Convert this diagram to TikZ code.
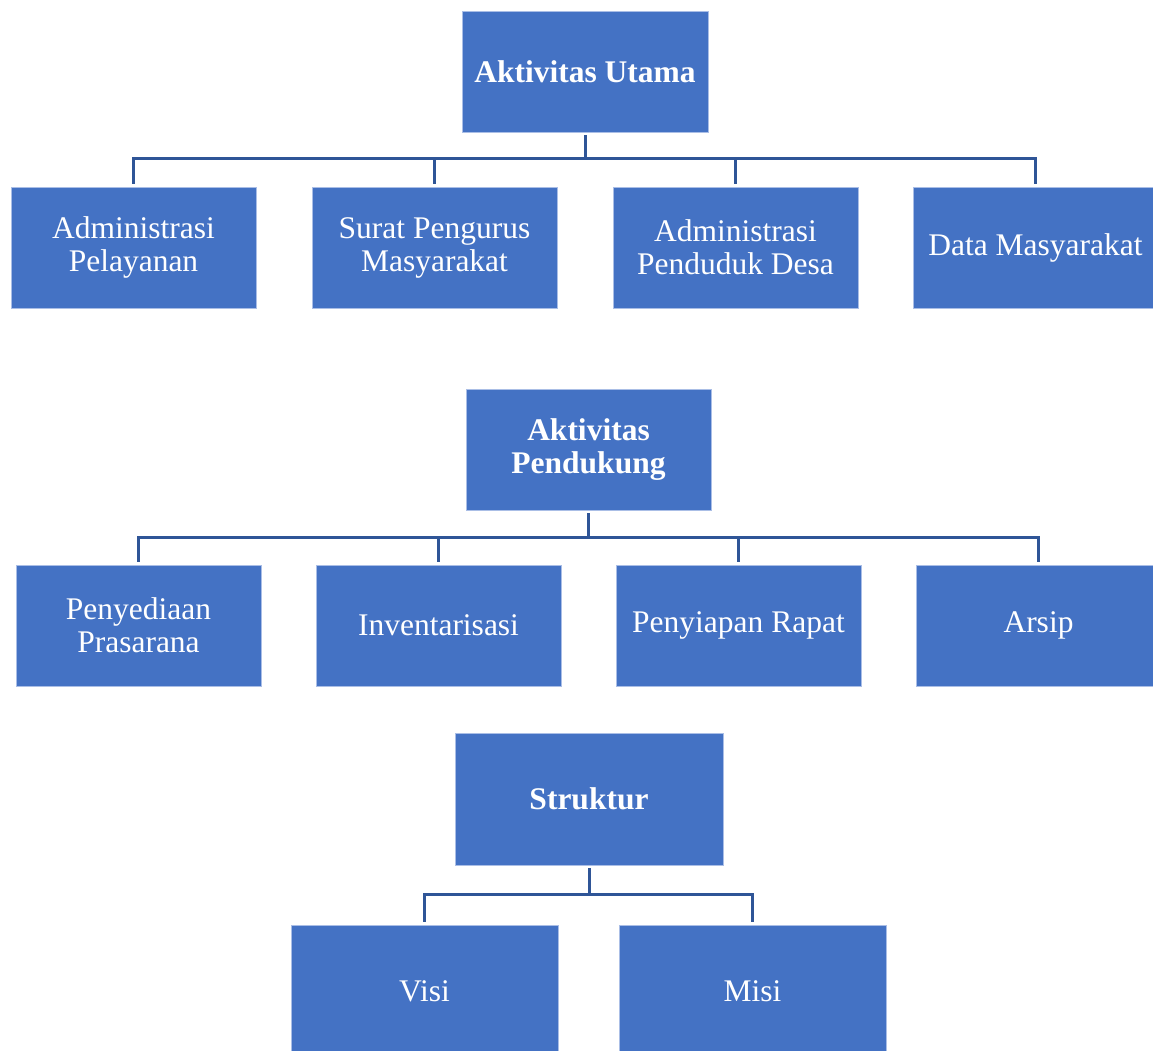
\documentclass[tikz,border=0pt]{standalone}
\usepackage{fontspec}
\setmainfont{Liberation Serif}
\usepackage{tikz}
\usetikzlibrary{calc,positioning}
\definecolor{my_blue}{RGB}{68, 114, 196}
\definecolor{my_line}{RGB}{47, 85, 151}
\definecolor{my_edge}{RGB}{170, 190, 230}
\tikzset{
  boxnode/.style = {align=center, inner sep=2pt, rectangle, text=white, fill=my_blue,
  draw=my_edge, line width=0.6pt, font=\fontsize{31.5}{33}\selectfont},
  box_n/.style = {boxnode, minimum width=245pt, minimum height=121pt},
  box_h/.style = {box_n, font=\fontsize{31.5}{33}\selectfont\bfseries},
  box_s/.style = {boxnode, minimum width=267pt, minimum height=132pt}
}

\begin{document}
\begin{tikzpicture}[x=1pt,y=-1pt,
        conn/.style={draw=my_line, line width=3pt}]
    \clip (0,0) rectangle (1153,1051);
    \fill[white] (0,0) rectangle (1153,1051);
    % aktivitas utama
    \node (ua) [box_h, minimum width=246pt] at (585,71.5) {Aktivitas Utama};
    \node (a1) [box_n] at (133.5,247.5) {Administrasi\\Pelayanan};
    \node (a2) [box_n] at (434.5,247.5) {Surat Pengurus\\Masyarakat};
    \node (a3) [box_n] at (735.5,247.5) {Administrasi\\Penduduk Desa};
    \node (a4) [box_n] at (1035.5,247.5) {Data Masyarakat};
    \foreach \c in {a1,a2,a3,a4}
        \draw[conn] (ua.south) ++(0,3) -- ++(0,23) -| ([yshift=3pt]\c.north);
    % aktivitas pendukung
    \node (pk) [box_h] at (588.5,449.5) {Aktivitas\\Pendukung};
    \node (p1) [box_n] at (138.5,625.5) {Penyediaan\\Prasarana};
    \node (p2) [box_n] at (438.5,625.5) {Inventarisasi};
    \node (p3) [box_n] at (738.5,625.5) {Penyiapan Rapat};
    \node (p4) [box_n] at (1038.5,625.5) {Arsip};
    \foreach \c in {p1,p2,p3,p4}
        \draw[conn] (pk.south) ++(0,3) -- ++(0,24) -| ([yshift=3pt]\c.north);
    % struktur
    \node (st) [box_s, minimum width=268pt, font=\fontsize{31.5}{33}\selectfont\bfseries] at (589,799) {Struktur};
    \node (vs) [box_s] at (424.5,991) {Visi};
    \node (ms) [box_s] at (752.5,991) {Misi};
    \foreach \c in {vs,ms}
        \draw[conn] (st.south) ++(0,3) -- ++(0,26) -| ([yshift=3pt]\c.north);
\end{tikzpicture}
\end{document}
